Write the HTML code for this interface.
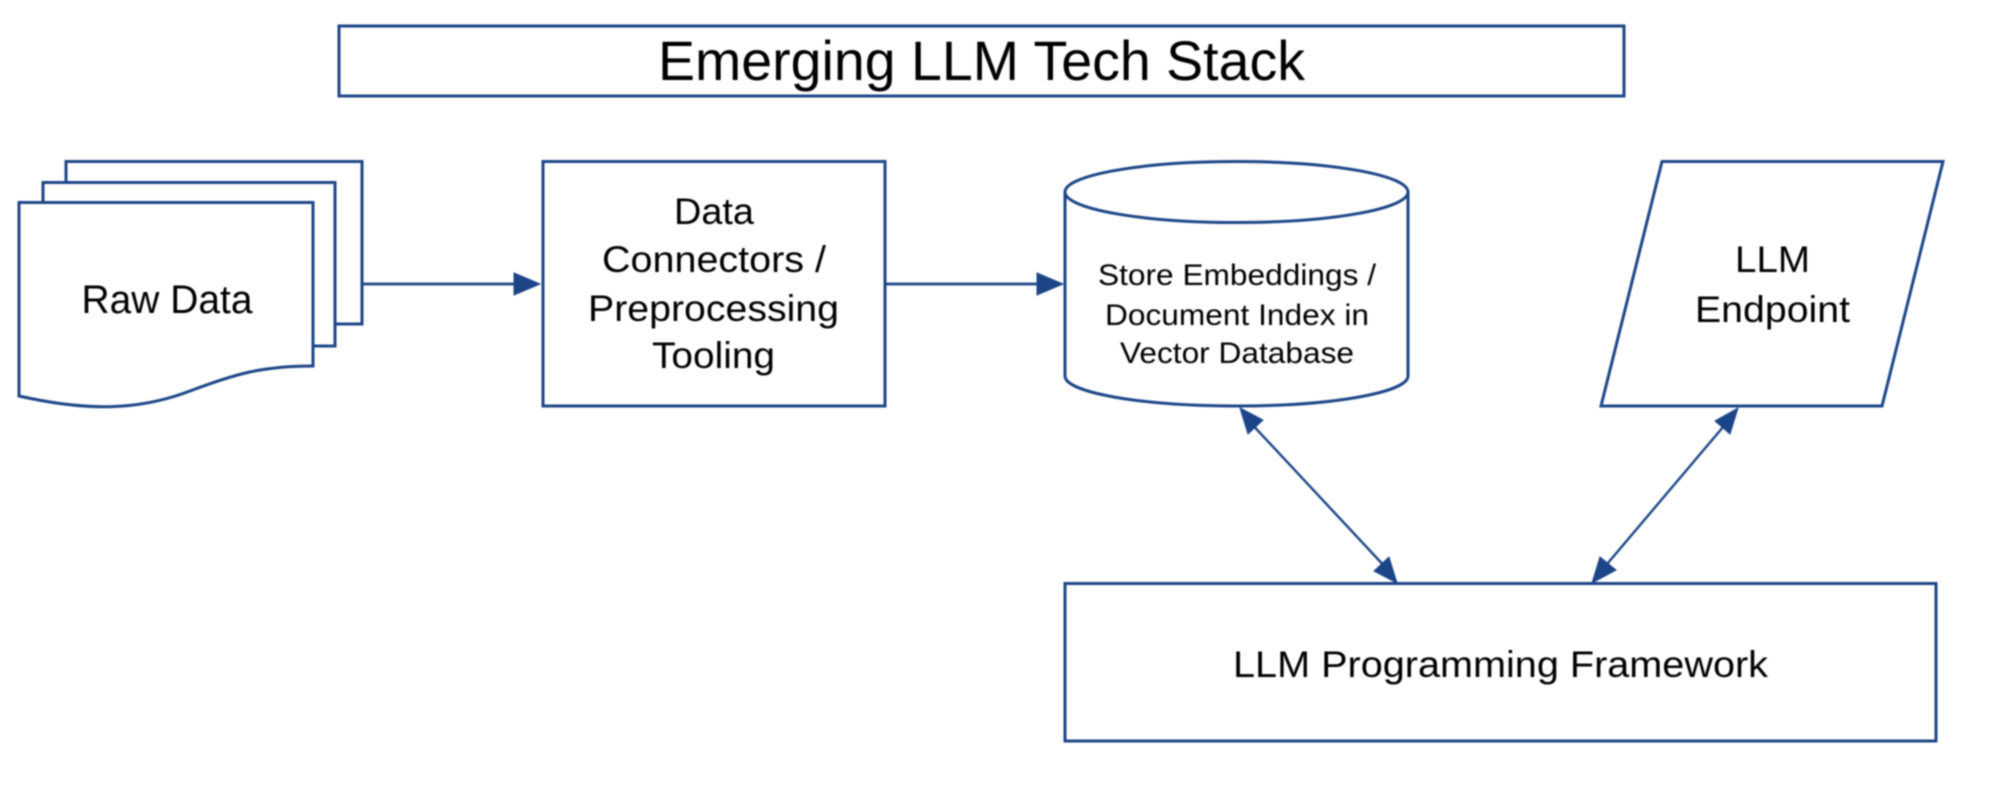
<!DOCTYPE html>
<html>
<head>
<meta charset="utf-8">
<style>
html,body{margin:0;padding:0;background:#fff;width:2000px;height:806px;overflow:hidden}
svg{display:block;filter:blur(0.7px)}
text{font-family:"Liberation Sans",Arial,sans-serif;fill:#000;text-anchor:middle}
.s{fill:#fff;stroke:#1c4587;stroke-width:3}
.l{fill:none;stroke:#1c4587;stroke-width:2.8}
.h{fill:#1c4587;stroke:#1c4587;stroke-width:1}
</style>
</head>
<body>
<svg width="2000" height="806" viewBox="0 0 2000 806" xmlns="http://www.w3.org/2000/svg">
  <rect x="0" y="0" width="2000" height="806" fill="#fff"/>

  <!-- Title -->
  <rect class="s" x="339" y="26" width="1285" height="70"/>
  <text x="981.5" y="80" font-size="56" textLength="647" lengthAdjust="spacingAndGlyphs">Emerging LLM Tech Stack</text>

  <!-- Stacked documents -->
  <path class="s" d="M66 182 V161.500 H362 V324 H335"/>
  <path class="s" d="M43 202 V182.500 H335 V346 H313"/>
  <path class="s" d="M19 202.500 H313 V366 C262 366 235 374 190 391 C140 410 90 412 19 396 Z"/>
  <text x="167" y="313" font-size="40" textLength="171" lengthAdjust="spacingAndGlyphs">Raw Data</text>

  <!-- Data connectors -->
  <rect class="s" x="543" y="161.500" width="342" height="244.500"/>
  <text x="714" y="224" font-size="37.500" textLength="80" lengthAdjust="spacingAndGlyphs">Data</text>
  <text x="714" y="272" font-size="37.500" textLength="224" lengthAdjust="spacingAndGlyphs">Connectors /</text>
  <text x="713.500" y="321" font-size="37.500" textLength="251" lengthAdjust="spacingAndGlyphs">Preprocessing</text>
  <text x="713.500" y="368" font-size="37.500" textLength="123" lengthAdjust="spacingAndGlyphs">Tooling</text>

  <!-- Cylinder -->
  <path class="s" d="M1065 192 V376 A171.500 30 0 0 0 1408 376 V192"/>
  <ellipse class="s" cx="1236.500" cy="192" rx="171.500" ry="30.500"/>
  <text x="1237" y="285" font-size="30" textLength="278" lengthAdjust="spacingAndGlyphs">Store Embeddings /</text>
  <text x="1237" y="325" font-size="30" textLength="264" lengthAdjust="spacingAndGlyphs">Document Index in</text>
  <text x="1237" y="363" font-size="30" textLength="234" lengthAdjust="spacingAndGlyphs">Vector Database</text>

  <!-- Parallelogram -->
  <path class="s" d="M1662 161.500 H1943 L1882 406 H1601 Z"/>
  <text x="1772.500" y="272" font-size="37.500" textLength="75" lengthAdjust="spacingAndGlyphs">LLM</text>
  <text x="1772.500" y="322" font-size="37.500" textLength="155" lengthAdjust="spacingAndGlyphs">Endpoint</text>

  <!-- Framework -->
  <rect class="s" x="1065" y="583.500" width="871" height="157.500"/>
  <text x="1500.500" y="677" font-size="37.500" textLength="535" lengthAdjust="spacingAndGlyphs">LLM Programming Framework</text>

  <!-- Horizontal arrows -->
  <line class="l" x1="362" y1="284" x2="518" y2="284"/>
  <polygon class="h" points="514,273 540,284 514,295"/>
  <line class="l" x1="885" y1="284" x2="1040" y2="284"/>
  <polygon class="h" points="1037,273 1063,284 1037,295"/>

  <!-- Diagonal arrows -->
  <line class="l" x1="1248" y1="420" x2="1388" y2="570" style="stroke-width:2.400"/>
  <polygon class="h" points="1240,408 1263,420 1248,434"/>
  <polygon class="h" points="1397,583 1374,571 1389,557"/>
  <line class="l" x1="1729" y1="420" x2="1602" y2="570" style="stroke-width:2.400"/>
  <polygon class="h" points="1738,408 1730,434 1715,421"/>
  <polygon class="h" points="1592,583 1600,557 1616,570"/>
</svg>
</body>
</html>
